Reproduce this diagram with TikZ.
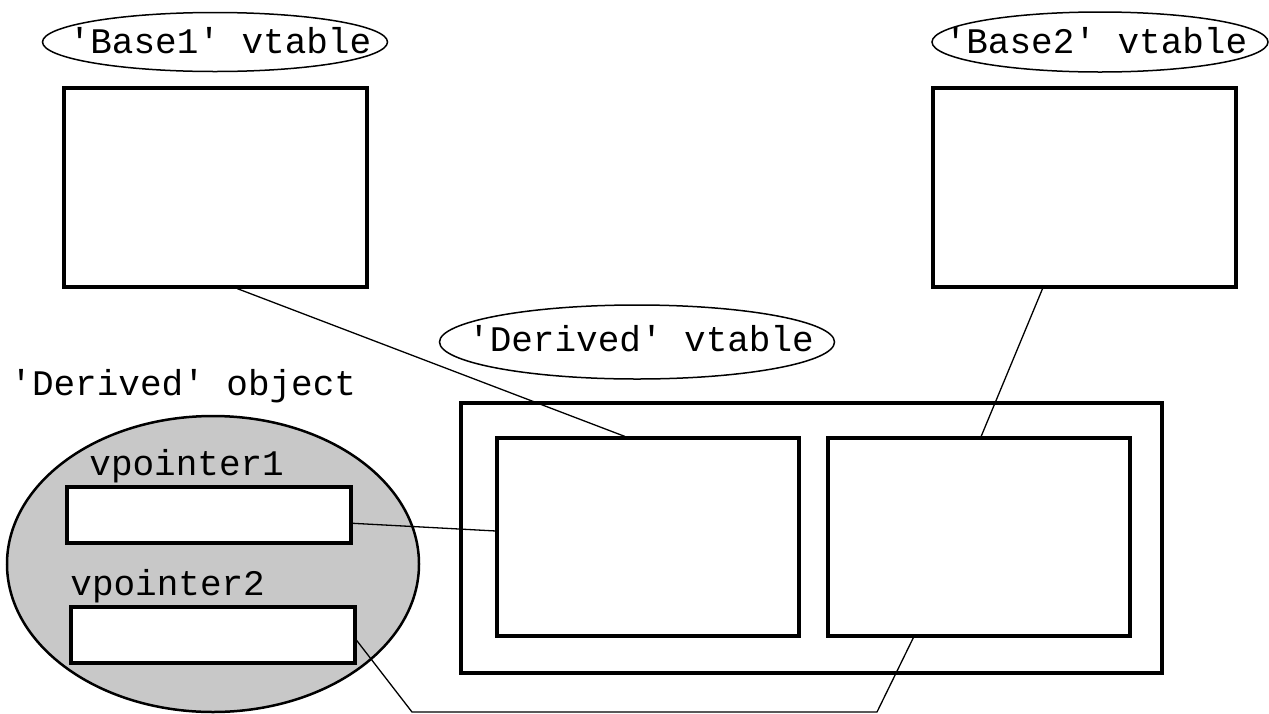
\documentclass[tikz,border=0pt]{standalone}
\usepackage{fontspec}
\setmonofont{Liberation Mono}
\usetikzlibrary{shapes.geometric,calc}
\definecolor{objgray}{RGB}{200,200,200}
\begin{document}
\begin{tikzpicture}[x=0.5pt,y=-0.5pt,
  every node/.style={font=\ttfamily\fontsize{18}{20}\selectfont},
  tbl/.style={draw,line width=1.6pt,fill=white,rectangle,inner sep=0pt},
  ring/.style={line width=0.75pt},
  link/.style={line width=0.65pt},
  lbl/.style={anchor=base west,inner sep=0pt}]
\useasboundingbox (0,0) rectangle (1269,713);

% object drawn as a grey ellipse holding the two pointers
\node[draw,line width=1.25pt,fill=objgray,ellipse,minimum width=206pt,minimum height=148pt,inner sep=0pt] (obj) at (213,564) {};
\node[lbl] (objtxt) at (10,395) {'Derived' object};
\node[lbl] (vp1txt) at (89,475) {vpointer1};
\node[lbl] (vp2txt) at (70,595) {vpointer2};
\node[tbl,minimum width=142pt,minimum height=28pt] (vp1) at (209,515) {};
\node[tbl,minimum width=142pt,minimum height=28pt] (vp2) at (213,635) {};

% base class tables with their oval captions
\node[inner sep=0pt] (b1tag) at (220,41) {'Base1' vtable};
\draw[ring] (215,42) ellipse [x radius=172.5, y radius=29.5];
\node[inner sep=0pt] (b2tag) at (1096,41) {'Base2' vtable};
\draw[ring] (1100,42) ellipse [x radius=168, y radius=30];
\node[tbl,minimum width=151.5pt,minimum height=99.5pt] (b1) at (215.5,187.5) {};
\node[tbl,minimum width=151.5pt,minimum height=99.5pt] (b2) at (1084.5,187.5) {};

% derived class table with its two parts
\node[inner sep=0pt] (dtag) at (641,339) {'Derived' vtable};
\draw[ring] (637,342) ellipse [x radius=197.5, y radius=37];
\node[tbl,minimum width=350.5pt,minimum height=135pt] (d) at (811.5,538) {};
\node[tbl,minimum width=151pt,minimum height=99pt] (d1) at (648,537) {};
\node[tbl,minimum width=151pt,minimum height=99pt] (d2) at (979,537) {};

% connectors
\draw[link] ($(b1.south west)!0.571!(b1.south east)$) -- ($(d1.north west)!0.424!(d1.north east)$);
\draw[link] ($(b2.south west)!0.363!(b2.south east)$) -- ($(d2.north west)!0.507!(d2.north east)$);
\draw[link] ($(vp1.north east)!0.64!(vp1.south east)$) -- ($(d1.north west)!0.47!(d1.south west)$);
\coordinate (bendL) at (412,712);
\coordinate (bendR) at (877,712);
\draw[link] ($(vp2.north east)!0.59!(vp2.south east)$) -- (bendL) -- (bendR) -- ($(d2.south west)!0.285!(d2.south east)$);
\end{tikzpicture}
\end{document}
